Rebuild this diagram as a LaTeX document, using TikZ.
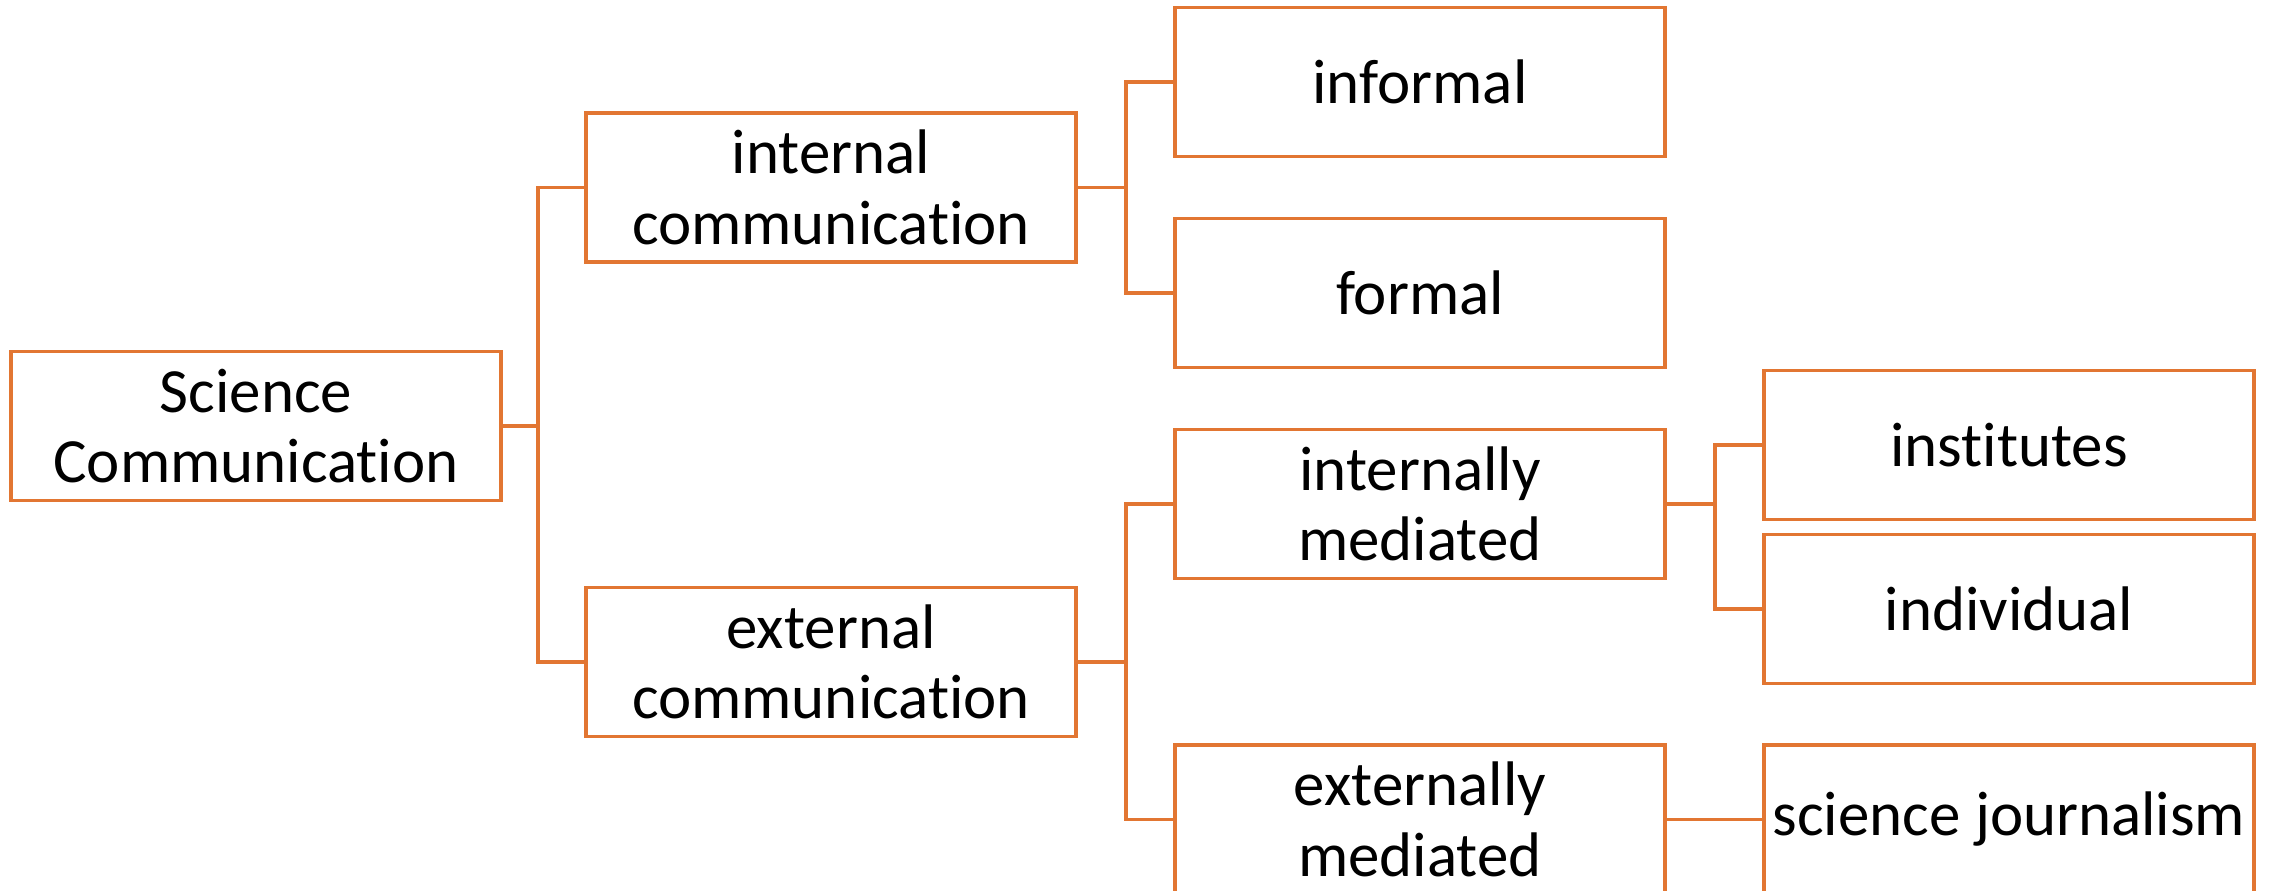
\documentclass[tikz,border=0pt]{standalone}
\usepackage{fontspec}
\setmainfont[RawFeature={-liga}]{Carlito}
\definecolor{boxline}{RGB}{226,118,50}
\tikzset{
  leaf/.style={draw=boxline, line width=0.95pt, fill=white, minimum width=4.9cm,
    minimum height=1.49cm, inner sep=0pt, align=center,
    font=\fontsize{17.9}{20}\selectfont},
  link/.style={draw=boxline, line width=0.95pt}
}
\begin{document}
\begin{tikzpicture}[x=0.01cm, y=-0.01cm]
  \useasboundingbox (0,0) rectangle (2269,890);
  \clip (0,0) rectangle (2269,890);
  \fill[white] (0,0) rectangle (2269,890);

  % boxes
  \node[leaf] (sci)   at (256,426)    {Science\\Communication};
  \node[leaf] (int)   at (831,187.5)  {internal\\communication};
  \node[leaf] (ext)   at (831,662)    {external\\communication};
  \node[leaf] (inf)   at (1420,82)    {informal};
  \node[leaf] (form)  at (1420,293)   {formal};
  \node[leaf] (imed)  at (1420,504)   {internally\\mediated};
  \node[leaf] (emed)  at (1420,819.5) {externally\\mediated};
  \node[leaf] (inst)  at (2009,445)   {institutes};
  \node[leaf] (indiv) at (2009,609)   {individual};
  \node[leaf] (sj)    at (2009,819.5) {science journalism};

  % junction points of the bracket connectors
  \coordinate (j1) at (538,426);
  \coordinate (j2) at (1126,187.5);
  \coordinate (j3) at (1126,662);
  \coordinate (j4) at (1715,504);

  \draw[link] (sci.east) -- (j1);
  \draw[link] (j1) |- (int.west);
  \draw[link] (j1) |- (ext.west);

  \draw[link] (int.east) -- (j2);
  \draw[link] (j2) |- (inf.west);
  \draw[link] (j2) |- (form.west);

  \draw[link] (ext.east) -- (j3);
  \draw[link] (j3) |- (imed.west);
  \draw[link] (j3) |- (emed.west);

  \draw[link] (imed.east) -- (j4);
  \draw[link] (j4) |- (inst.west);
  \draw[link] (j4) |- (indiv.west);

  \draw[link] (emed.east) -- (sj.west);
\end{tikzpicture}
\end{document}
